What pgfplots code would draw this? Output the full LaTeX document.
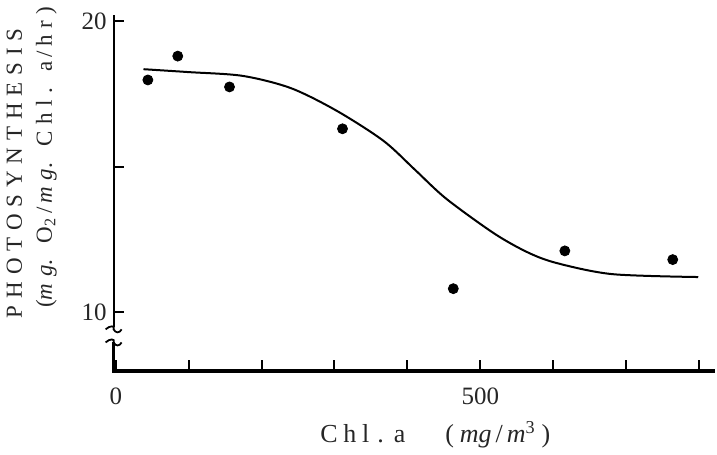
\documentclass[border=0pt]{standalone}
\usepackage{fontspec}
\setmainfont{Liberation Serif}
\usepackage{pgfplots}
\pgfplotsset{compat=1.18}

\begin{document}
\begin{tikzpicture}
\begin{axis}[
  scale only axis,
  width=301pt, height=177.5pt,
  xmin=-3, xmax=822,
  ymin=8, ymax=20.2,
  axis x line=bottom,
  axis y line=left,
  x axis line style={draw=none},
  y axis line style={draw=none},
  clip=false,
  /pgf/number format/assume math mode=true,
  tick align=inside,
  xtick={0,100,...,800},
  xticklabels={0,,,,,500,,,},
  ytick={10,15,20},
  yticklabels={10,,20},
  major tick length=5pt,
  tick style={line width=1pt, black},
  ticklabel style={font=\fontsize{12.5}{13}\selectfont, text=black!85},
  xticklabel style={yshift=-5.5pt},
  xlabel={{\addfontfeatures{LetterSpace=22}Chl}\hspace{4pt}.\hspace{5pt}a\hspace{20pt}(\hspace{3pt}\textit{mg}\hspace{2pt}/\hspace{2pt}\textit{m}\textsuperscript{3}\hspace{3pt})},
  xlabel style={font=\fontsize{13}{14}\selectfont, text=black!85,
    at={(axis description cs:0.535,-0.182)}, anchor=center},
  ylabel={\addfontfeatures{LetterSpace=30}PHOTOSYNTHESIS},
  ylabel style={font=\fontsize{11.5}{13}\selectfont, text=black!85,
    at={(axis description cs:-0.165,0.555)}, anchor=center},
]
\addplot[black, line width=1pt, smooth, tension=0.5] coordinates {
  (38,18.35) (100,18.25) (174,18.12) (240,17.7) (303,16.92) (367,15.89)
  (410,14.9) (453,13.9) (519,12.7) (565,12.05) (605,11.68) (681,11.3) (799,11.2)
};
\addplot[only marks, mark=*, mark size=2.5pt, black] coordinates {
  (44,17.98) (85,18.8) (156,17.74) (311,16.3) (463,10.8) (616,12.1) (764,11.8)
};
% second line of the y label
\node[rotate=90, font=\fontsize{11.5}{13}\selectfont, text=black!85, anchor=center]
  at (rel axis cs:-0.112,0.6)
  {\addfontfeatures{LetterSpace=29}(\textit{mg}. O\textsubscript{2}\,/\,\textit{mg}. Chl. a\,/\,hr)};
% axis lines, y with break
\draw[line width=1pt] (rel axis cs:0,1) -- (rel axis cs:0,0.1213);
\draw[line width=0.9pt] ([xshift=-4pt]rel axis cs:0,0.1148) .. controls ([xshift=-2pt,yshift=2pt]rel axis cs:0,0.1148) and ([xshift=1pt,yshift=2pt]rel axis cs:0,0.1148) .. (rel axis cs:0,0.1148) .. controls ([xshift=1pt,yshift=-2pt]rel axis cs:0,0.1148) and ([xshift=3pt,yshift=-2pt]rel axis cs:0,0.1148) .. ([xshift=4pt]rel axis cs:0,0.1148);
\draw[line width=0.9pt] ([xshift=-4pt]rel axis cs:0,0.0779) .. controls ([xshift=-2pt,yshift=2pt]rel axis cs:0,0.0779) and ([xshift=1pt,yshift=2pt]rel axis cs:0,0.0779) .. (rel axis cs:0,0.0779) .. controls ([xshift=1pt,yshift=-2pt]rel axis cs:0,0.0779) and ([xshift=3pt,yshift=-2pt]rel axis cs:0,0.0779) .. ([xshift=4pt]rel axis cs:0,0.0779);
\draw[line width=1.4pt] (rel axis cs:0,0.0779) -- ([yshift=-1.5pt]rel axis cs:0,0);
\draw[line width=2pt] ([xshift=-0.7pt,yshift=-0.5pt]rel axis cs:0,0) -- ([yshift=-0.5pt]rel axis cs:1,0);
\end{axis}
\end{tikzpicture}
\end{document}
